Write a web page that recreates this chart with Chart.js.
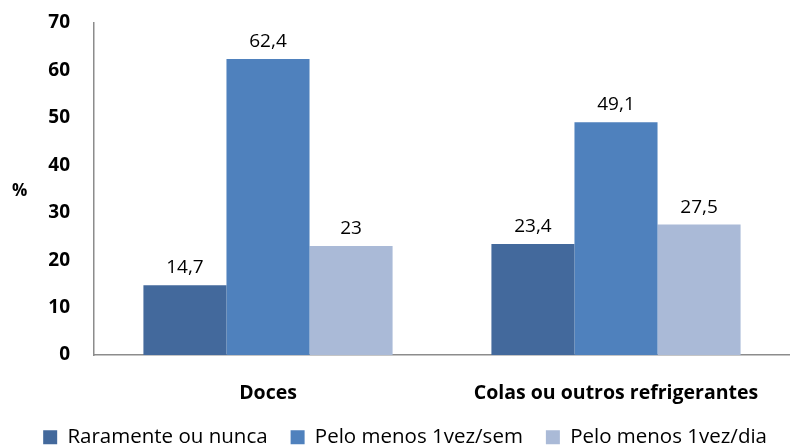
<!DOCTYPE html>
<html>
<head>
<meta charset="utf-8">
<script src="https://cdn.jsdelivr.net/npm/chart.js@4"></script>
<style>
  html, body { margin: 0; padding: 0; background: #fff; }
  #wrap { width: 790px; height: 448px; }
</style>
</head>
<body>
<div id="wrap"><canvas id="canvas" width="790" height="448"></canvas></div>
<script>
var categories = ["Doces", "Colas ou outros refrigerantes"];
var seriesNames = ["Raramente ou nunca", "Pelo menos 1vez/sem", "Pelo menos 1vez/dia"];
var raramente = [14.7, 23.4];
var semana = [62.4, 49.1];
var diario = [23, 27.5];
var yTicks = [0, 10, 20, 30, 40, 50, 60, 70];

var fontFamily = "'Open Sans', sans-serif";

// draws value labels above bars and the "%" axis label
const labelPlugin = {
    id: "valueLabels",
    afterDatasetsDraw(chart) {
        const ctx = chart.ctx;
        ctx.save();
        ctx.fillStyle = "#000";
        ctx.font = "19px " + fontFamily;
        ctx.textAlign = "center";
        ctx.textBaseline = "alphabetic";
        chart.data.datasets.forEach((ds, i) => {
            chart.getDatasetMeta(i).data.forEach((bar, j) => {
                ctx.fillText(String(ds.data[j]).replace(".", ","), bar.x, bar.y - 12);
            });
        });
        ctx.font = "bold 17px " + fontFamily;
        ctx.textAlign = "left";
        ctx.textBaseline = "middle";
        ctx.fillText("%", 12, 191);
        ctx.restore();
    }
};

const canvas = document.getElementById("canvas");
const data = {
    labels: categories,
    datasets: [
        { label: seriesNames[0], backgroundColor: "#43699C", data: raramente },
        { label: seriesNames[1], backgroundColor: "#4F81BD", data: semana },
        { label: seriesNames[2], backgroundColor: "#AABAD7", data: diario }
    ]
};
const options = {
    responsive: false,
    animation: false,
    layout: { padding: { top: 23, right: 0, bottom: 0, left: 0 } },
    datasets: { bar: { categoryPercentage: 0.716, barPercentage: 1.0 } },
    plugins: {
        legend: {
            position: "bottom",
            align: "end",
            maxHeight: 44,
            labels: {
                boxWidth: 14,
                boxHeight: 14,
                padding: 23,
                color: "#000",
                font: { family: fontFamily, size: 20.5 }
            }
        },
        tooltip: { enabled: false }
    },
    scales: {
        x: {
            afterFit: function (scale) { scale.height = 49; },
            grid: { display: false },
            border: { display: true, color: "#8C8C8C", width: 1.5 },
            ticks: { color: "#000", padding: 19, font: { family: fontFamily, size: 19.5, weight: "bold" } }
        },
        y: {
            min: 0,
            max: 70,
            afterBuildTicks: function (scale) {
                scale.ticks = yTicks.map(v => ({ value: v }));
            },
            afterFit: function (scale) {
                scale.width = 94;
                scale.paddingTop = 0;
                scale.paddingBottom = 0;
            },
            grid: { display: false },
            border: { display: true, color: "#8C8C8C", width: 1.5 },
            ticks: { color: "#000", padding: 16, font: { family: fontFamily, size: 19, weight: "bold" } }
        }
    }
};
const config = {
    type: "bar",
    data: data,
    options: options,
    plugins: [labelPlugin]
};
const chart = new Chart(canvas, config);
</script>
</body>
</html>
